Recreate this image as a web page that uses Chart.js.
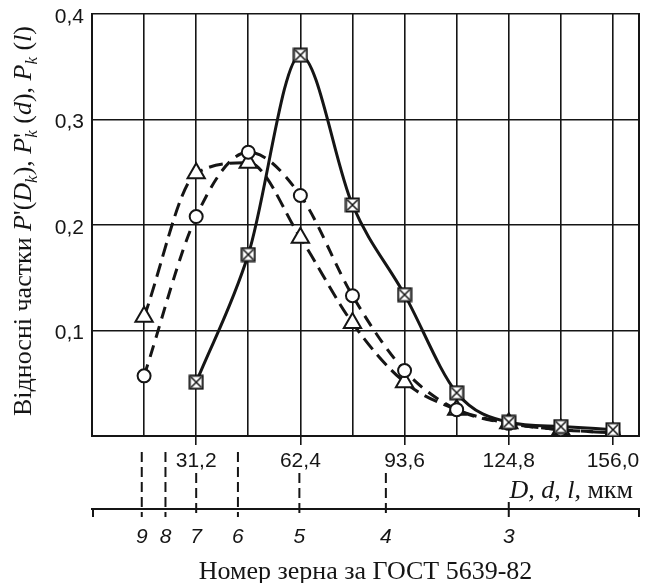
<!DOCTYPE html>
<html>
<head>
<meta charset="utf-8">
<script src="https://cdn.jsdelivr.net/npm/chart.js@4.4.1/dist/chart.umd.min.js"></script>
<style>
  html, body { margin: 0; padding: 0; background: #fff; }
</style>
</head>
<body>
<canvas id="grainChart" width="651" height="583"></canvas>
<script>
// grain size, мкм
const sizes = [15.6, 31.2, 46.8, 62.4, 78.0, 93.6, 109.2, 124.8, 140.4, 156.0];
// P'(D_k) - triangles
const seriesD = [0.113, 0.249, 0.259, 0.188, 0.107, 0.051, 0.025, 0.012, 0.006, 0.003];
// P'_k(d) - circles
const seriesd = [0.057, 0.208, 0.269, 0.228, 0.133, 0.062, 0.025, 0.012, 0.006, 0.003];
// P_k(l) - crossed squares
const seriesl = [null, 0.051, 0.172, 0.361, 0.219, 0.134, 0.041, 0.013, 0.009, 0.006];

const xGrid = [0, 15.6, 31.2, 46.8, 62.4, 78.0, 93.6, 109.2, 124.8, 140.4, 156.0];
const xLabelled = [31.2, 62.4, 93.6, 124.8, 156.0];
const xLabels = ["31,2", "62,4", "93,6", "124,8", "156,0"];

const yTicks = [0, 0.1, 0.2, 0.3, 0.4];
const yLabels = ["", "0,1", "0,2", "0,3", "0,4"];

// grain number (ГОСТ 5639-82) against mean diameter, мкм
const grainDiam = [14.9, 22.0, 31.2, 43.7, 62.1, 88.0, 124.8];
const grainNo = ["9", "8", "7", "6", "5", "4", "3"];

const INK = "#151515";
const SERIF = "'Liberation Serif', 'Times New Roman', serif";
const SANS = "'Liberation Sans', Arial, sans-serif";

function crossedSquare() {
  const c = document.createElement("canvas");
  c.width = 16;
  c.height = 16;
  const g = c.getContext("2d");
  g.fillStyle = "#fff";
  g.fillRect(1, 1, 14, 14);
  g.strokeStyle = INK;
  g.lineWidth = 2;
  g.strokeRect(1.5, 1.5, 13, 13);
  g.lineWidth = 1.5;
  g.beginPath();
  g.moveTo(3, 3); g.lineTo(13, 13);
  g.moveTo(13, 3); g.lineTo(3, 13);
  g.stroke();
  return c;
}

function isLabelled(v) {
  return xLabelled.some(function (l) { return Math.abs(l - v) < 0.01; });
}

function drawRuns(ctx, runs, x, y) {
  runs.forEach(function (r) {
    ctx.font = r.font;
    ctx.fillText(r.t, x, y + (r.dy || 0));
    if (r.under) {
      ctx.font = r.under.font;
      ctx.fillText(r.under.t, x, y + r.under.dy);
    }
    x += r.w;
  });
}

function measureRuns(ctx, runs) {
  let total = 0;
  runs.forEach(function (r) {
    ctx.font = r.font;
    let w = ctx.measureText(r.t).width;
    if (r.under) {
      ctx.font = r.under.font;
      w = Math.max(w, ctx.measureText(r.under.t).width);
    }
    r.w = w;
    total += w;
  });
  return total;
}

const nf = "26px " + SERIF;
const itf = "italic 26px " + SERIF;
const subf = "italic 17px " + SERIF;

const decorations = {
  id: "decorations",
  afterDraw(chart) {
    const ctx = chart.ctx;
    const area = chart.chartArea;
    const xs = chart.scales.x;
    const gs = chart.scales.grain;
    ctx.save();

    // right border of the box
    ctx.strokeStyle = INK;
    ctx.lineWidth = 2;
    ctx.beginPath();
    ctx.moveTo(area.right, area.top - 1);
    ctx.lineTo(area.right, area.bottom + 1);
    ctx.stroke();

    // x axis title "D, d, l, мкм"
    ctx.fillStyle = INK;
    ctx.textBaseline = "alphabetic";
    const xt = [
      { t: "D, d, l,", font: itf },
      { t: " мкм", font: nf }
    ];
    const xtw = measureRuns(ctx, xt);
    const xtRight = area.right - 6;
    const xtLeft = xtRight - xtw;
    drawRuns(ctx, xt, xtLeft, 498);

    // y axis title
    const yt = [
      { t: "Відносні частки ", font: nf },
      { t: "P", font: itf },
      { t: "'(", font: nf },
      { t: "D", font: itf },
      { t: "k", font: subf, dy: 6 },
      { t: "), ", font: nf },
      { t: "P", font: itf },
      { t: "'", font: nf, under: { t: "k", font: subf, dy: 6 } },
      { t: " (", font: nf },
      { t: "d", font: itf },
      { t: "), ", font: nf },
      { t: "P", font: itf },
      { t: "k", font: subf, dy: 6 },
      { t: " (", font: nf },
      { t: "l", font: itf },
      { t: ")", font: nf }
    ];
    const ytw = measureRuns(ctx, yt);
    ctx.save();
    ctx.translate(31, 221);
    ctx.rotate(-Math.PI / 2);
    drawRuns(ctx, yt, -ytw / 2, 0);
    ctx.restore();

    // grain-number marks crossing the lower axis
    const axisY = gs.top;
    const labelPx = xLabelled.map(function (v) { return xs.getPixelForValue(v); });
    ctx.lineWidth = 2;
    grainDiam.forEach(function (v) {
      const px = gs.getPixelForValue(v);
      if (px >= xtLeft - 4 && px <= xtRight) {
        ctx.setLineDash([]);
        ctx.beginPath();
        ctx.moveTo(px, axisY - 7);
        ctx.lineTo(px, axisY + 8);
        ctx.stroke();
        return;
      }
      const underLabel = labelPx.some(function (l) { return Math.abs(l - px) < 24; });
      const top = underLabel ? area.bottom + 37 : area.bottom + 16;
      ctx.setLineDash([10, 5]);
      ctx.beginPath();
      ctx.moveTo(px, top);
      ctx.lineTo(px, axisY + 8);
      ctx.stroke();
    });
    ctx.setLineDash([]);
    ctx.beginPath();
    ctx.moveTo(gs.left + 1, axisY);
    ctx.lineTo(gs.left + 1, axisY + 8);
    ctx.moveTo(gs.right, axisY);
    ctx.lineTo(gs.right, axisY + 8);
    ctx.stroke();
    ctx.restore();
  }
};

function noOverhang(scale) {
  scale.paddingTop = 0;
  scale.paddingBottom = 0;
  scale.paddingLeft = 0;
  scale.paddingRight = 0;
}

Chart.defaults.font.family = SANS;
Chart.defaults.color = INK;

const pointSquare = crossedSquare();

new Chart(document.getElementById("grainChart"), {
  type: "line",
  data: {
    datasets: [
      {
        label: "P_k(l)",
        data: sizes.map(function (x, i) { return { x: x, y: seriesl[i] }; }),
        borderColor: INK,
        borderWidth: 3,
        pointStyle: pointSquare,
        cubicInterpolationMode: "monotone"
      },
      {
        label: "P'_k(d)",
        data: sizes.map(function (x, i) { return { x: x, y: seriesd[i] }; }),
        borderColor: INK,
        borderWidth: 3,
        borderDash: [12, 8],
        pointStyle: "circle",
        pointRadius: 6.5,
        pointBorderWidth: 2,
        pointBackgroundColor: "#fff",
        pointBorderColor: INK,
        cubicInterpolationMode: "monotone"
      },
      {
        label: "P'(D_k)",
        data: sizes.map(function (x, i) { return { x: x, y: seriesD[i] }; }),
        borderColor: INK,
        borderWidth: 3,
        borderDash: [14, 7],
        pointStyle: "triangle",
        pointRadius: 10,
        pointBorderWidth: 2,
        pointBackgroundColor: "#fff",
        pointBorderColor: INK,
        cubicInterpolationMode: "monotone"
      }
    ]
  },
  options: {
    responsive: false,
    animation: false,
    devicePixelRatio: 1,
    layout: { padding: { left: 0, right: 8, top: 14, bottom: 0 } },
    plugins: {
      legend: { display: false },
      tooltip: { enabled: false }
    },
    scales: {
      x: {
        type: "linear",
        position: "bottom",
        weight: 0,
        min: 0,
        max: 163.8,
        afterBuildTicks: function (scale) {
          scale.ticks = xGrid.map(function (v) { return { value: v }; });
        },
        afterFit: function (scale) { scale.height = 73; noOverhang(scale); },
        grid: {
          color: INK,
          lineWidth: 1.6,
          drawTicks: true,
          tickLength: 9,
          tickColor: function (c) {
            return c.tick && isLabelled(c.tick.value) ? INK : "rgba(0,0,0,0)";
          },
          tickWidth: 1.6
        },
        border: { display: true, color: INK, width: 2 },
        ticks: {
          autoSkip: false,
          maxRotation: 0,
          padding: 4,
          font: { size: 21 },
          color: INK,
          callback: function (v) {
            const i = xLabelled.findIndex(function (l) { return Math.abs(l - v) < 0.01; });
            return i >= 0 ? xLabels[i] : "";
          }
        }
      },
      grain: {
        type: "linear",
        position: "bottom",
        weight: 1,
        min: 0,
        max: 163.8,
        afterBuildTicks: function (scale) {
          scale.ticks = grainDiam.map(function (v) { return { value: v }; });
        },
        afterFit: function (scale) { scale.height = 74; noOverhang(scale); },
        grid: {
          display: true,
          drawOnChartArea: false,
          drawTicks: false,
          color: "rgba(0,0,0,0)"
        },
        border: { display: true, color: INK, width: 2 },
        ticks: {
          autoSkip: false,
          maxRotation: 0,
          padding: 16,
          font: { size: 21, style: "italic" },
          color: INK,
          callback: function (v, i) { return grainNo[i]; }
        },
        title: {
          display: true,
          text: "Номер зерна за ГОСТ 5639-82",
          color: INK,
          font: { family: SERIF, size: 26, lineHeight: 0.85 },
          padding: { top: 0, bottom: 0 }
        }
      },
      y: {
        type: "linear",
        min: 0,
        max: 0.4,
        afterBuildTicks: function (scale) {
          scale.ticks = yTicks.map(function (v) { return { value: v }; });
        },
        afterFit: function (scale) { scale.width = 92; noOverhang(scale); },
        grid: { color: INK, lineWidth: 1.6, drawTicks: false },
        border: { display: true, color: INK, width: 2 },
        ticks: {
          padding: 8,
          labelOffset: 3,
          font: { size: 21 },
          color: INK,
          callback: function (v, i) { return yLabels[i]; }
        }
      }
    }
  },
  plugins: [decorations]
});
</script>
</body>
</html>
